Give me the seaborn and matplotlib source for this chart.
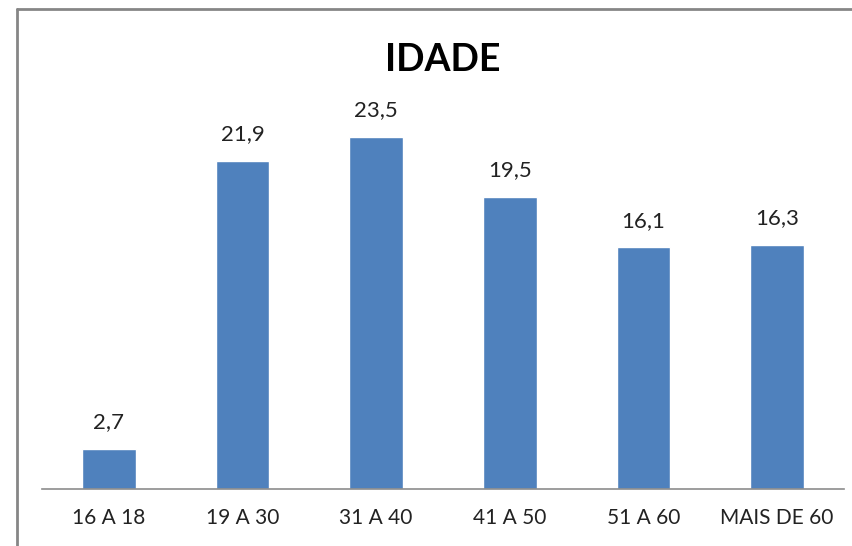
import matplotlib
matplotlib.use("Agg")
import matplotlib.pyplot as plt
import seaborn as sns
import pandas as pd

categorias = ["16 A 18", "19 A 30", "31 A 40", "41 A 50", "51 A 60", "MAIS DE 60"]
valores = [2.7, 21.9, 23.5, 19.5, 16.1, 16.3]
rotulos = ["2,7", "21,9", "23,5", "19,5", "16,1", "16,3"]

sns.set_style("white")
plt.rcParams['font.family'] = ['Lato', 'DejaVu Sans']

df = pd.DataFrame({"faixa": categorias, "pct": valores})

fig = plt.figure(figsize=(8.53, 5.46), dpi=100)
ax = fig.add_axes([42 / 853, 57 / 546, 802 / 853, 375 / 546])
sns.barplot(data=df, x="faixa", y="pct", color="#4F81BD", saturation=1,
            width=0.4, ax=ax)

ax.set_ylim(0, 25)
ax.set_xlim(-0.5, len(categorias) - 0.5)
ax.set_xlabel("")
ax.set_ylabel("")
ax.set_yticks([])
ax.tick_params(axis="x", length=0, labelsize=15, pad=14, colors="#222222")
for s in ["top", "right", "left"]:
    ax.spines[s].set_visible(False)
ax.spines["bottom"].set_color("#8C8C8C")
ax.spines["bottom"].set_linewidth(1.2)

for p, txt in zip(ax.patches, rotulos):
    ax.annotate(txt, (p.get_x() + p.get_width() / 2, p.get_height()),
                xytext=(0, 12), textcoords="offset points",
                ha="center", va="bottom", fontsize=16, color="#222222")

fig.text(443 / 853, 1 - 60 / 546, "IDADE", ha="center", va="center",
         fontsize=27, fontweight="bold", color="black")

# moldura parcial (topo e esquerda)
fig.add_artist(plt.Line2D([17 / 853, 17 / 853], [0, 1 - 9 / 546],
                          transform=fig.transFigure, color="#868686", lw=2))
fig.add_artist(plt.Line2D([17 / 853, 1], [1 - 9 / 546, 1 - 9 / 546],
                          transform=fig.transFigure, color="#868686", lw=2))

fig.savefig("out.png", dpi=100)
